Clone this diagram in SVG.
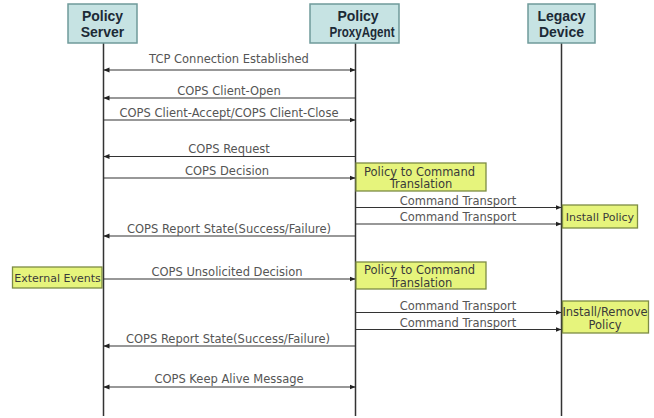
<svg xmlns="http://www.w3.org/2000/svg" width="654" height="418" viewBox="0 0 654 418">
  <style>
    .hdr rect { fill: #c6e3e3; stroke: #6f9a9a; stroke-width: 1.5; }
    .hdr text { font-family: "Liberation Sans", Arial, sans-serif; font-weight: bold; font-size: 14px; fill: #1c2a36; text-anchor: middle; }
    .note rect { fill: #e6f47c; stroke: #7d8c44; stroke-width: 1.3; }
    .note text { font-family: "DejaVu Sans", sans-serif; font-size: 11.5px; fill: #3a3a3a; text-anchor: middle; }
    .note text.sm { font-size: 11px; }
    .life { stroke: #333; stroke-width: 1.5; fill: none; }
    .msg { stroke: #333; stroke-width: 1.2; fill: none; marker-end: url(#arr); }
    .both { marker-start: url(#arr); }
    .lbl { font-family: "DejaVu Sans", sans-serif; font-size: 11.5px; fill: #555; text-anchor: middle; }
  </style>
  <defs>
    <marker id="arr" viewBox="0 0 6 6" refX="6" refY="3" markerWidth="6" markerHeight="6" markerUnits="userSpaceOnUse" orient="auto-start-reverse">
      <path d="M0,0.5 L6,3 L0,5.5 z" fill="#222"/>
    </marker>
  </defs>
  <rect width="654" height="418" fill="#ffffff"/>

  <!-- lifelines -->
  <g id="lifelines">
    <line class="life" x1="103.5" y1="43" x2="103.5" y2="416"/>
    <line class="life" x1="355.5" y1="43" x2="355.5" y2="416"/>
    <line class="life" x1="561.5" y1="43" x2="561.5" y2="416"/>
  </g>

  <!-- participants -->
  <g id="policy-server" class="hdr">
    <rect x="68" y="4" width="69" height="39"/>
    <text x="102.5" y="21">Policy</text>
    <text x="102.5" y="37">Server</text>
  </g>
  <g id="policy-proxy-agent" class="hdr">
    <rect x="310" y="4" width="89" height="39"/>
    <text x="358" y="21">Policy</text>
    <text x="362" y="37" textLength="65" lengthAdjust="spacingAndGlyphs">ProxyAgent</text>
  </g>
  <g id="legacy-device" class="hdr">
    <rect x="528" y="4" width="67" height="39"/>
    <text x="561.5" y="21">Legacy</text>
    <text x="561.5" y="37">Device</text>
  </g>

  <!-- messages -->
  <g id="connectors">
    <line class="msg both" x1="103.5" y1="70" x2="355.5" y2="70"/>
    <line class="msg" x1="355.5" y1="98" x2="103.5" y2="98"/>
    <line class="msg" x1="103.5" y1="120" x2="355.5" y2="120"/>
    <line class="msg" x1="355.5" y1="156.5" x2="103.5" y2="156.5"/>
    <line class="msg" x1="103.5" y1="178" x2="355.5" y2="178"/>
    <line class="msg" x1="355.5" y1="207.5" x2="561.5" y2="207.5"/>
    <line class="msg" x1="355.5" y1="224" x2="561.5" y2="224"/>
    <line class="msg" x1="355.5" y1="236" x2="103.5" y2="236"/>
    <line class="msg" x1="103.5" y1="279" x2="355.5" y2="279"/>
    <line class="msg" x1="355.5" y1="312.5" x2="561.5" y2="312.5"/>
    <line class="msg" x1="355.5" y1="329.5" x2="561.5" y2="329.5"/>
    <line class="msg" x1="355.5" y1="346" x2="103.5" y2="346"/>
    <line class="msg both" x1="103.5" y1="387" x2="355.5" y2="387"/>
  </g>

  <!-- message labels -->
  <g id="labels">
    <text class="lbl" x="229" y="63">TCP Connection Established</text>
    <text class="lbl" x="229" y="95">COPS Client-Open</text>
    <text class="lbl" x="229" y="117">COPS Client-Accept/COPS Client-Close</text>
    <text class="lbl" x="229" y="153">COPS Request</text>
    <text class="lbl" x="227" y="175">COPS Decision</text>
    <text class="lbl" x="458" y="205">Command Transport</text>
    <text class="lbl" x="458" y="221">Command Transport</text>
    <text class="lbl" x="229" y="233">COPS Report State(Success/Failure)</text>
    <text class="lbl" x="227" y="276">COPS Unsolicited Decision</text>
    <text class="lbl" x="458" y="310">Command Transport</text>
    <text class="lbl" x="458" y="327">Command Transport</text>
    <text class="lbl" x="228" y="343">COPS Report State(Success/Failure)</text>
    <text class="lbl" x="229" y="383">COPS Keep Alive Message</text>
  </g>

  <!-- notes -->
  <g id="translation-1" class="note">
    <rect x="356" y="163" width="130" height="28"/>
    <text x="419.5" y="175.5">Policy to Command</text>
    <text x="421" y="188">Translation</text>
  </g>
  <g id="install-policy" class="note">
    <rect x="562.5" y="205" width="75" height="23"/>
    <text class="sm" x="600" y="220.5">Install Policy</text>
  </g>
  <g id="external-events" class="note">
    <rect x="12.5" y="267" width="89.5" height="21"/>
    <text class="sm" x="57.5" y="281.5">External Events</text>
  </g>
  <g id="translation-2" class="note">
    <rect x="356" y="262" width="130" height="27"/>
    <text x="419.5" y="274">Policy to Command</text>
    <text x="421" y="286.5">Translation</text>
  </g>
  <g id="install-remove-policy" class="note">
    <rect x="562.5" y="301" width="86" height="32"/>
    <text x="605" y="315.5">Install/Remove</text>
    <text x="605" y="329">Policy</text>
  </g>
</svg>
